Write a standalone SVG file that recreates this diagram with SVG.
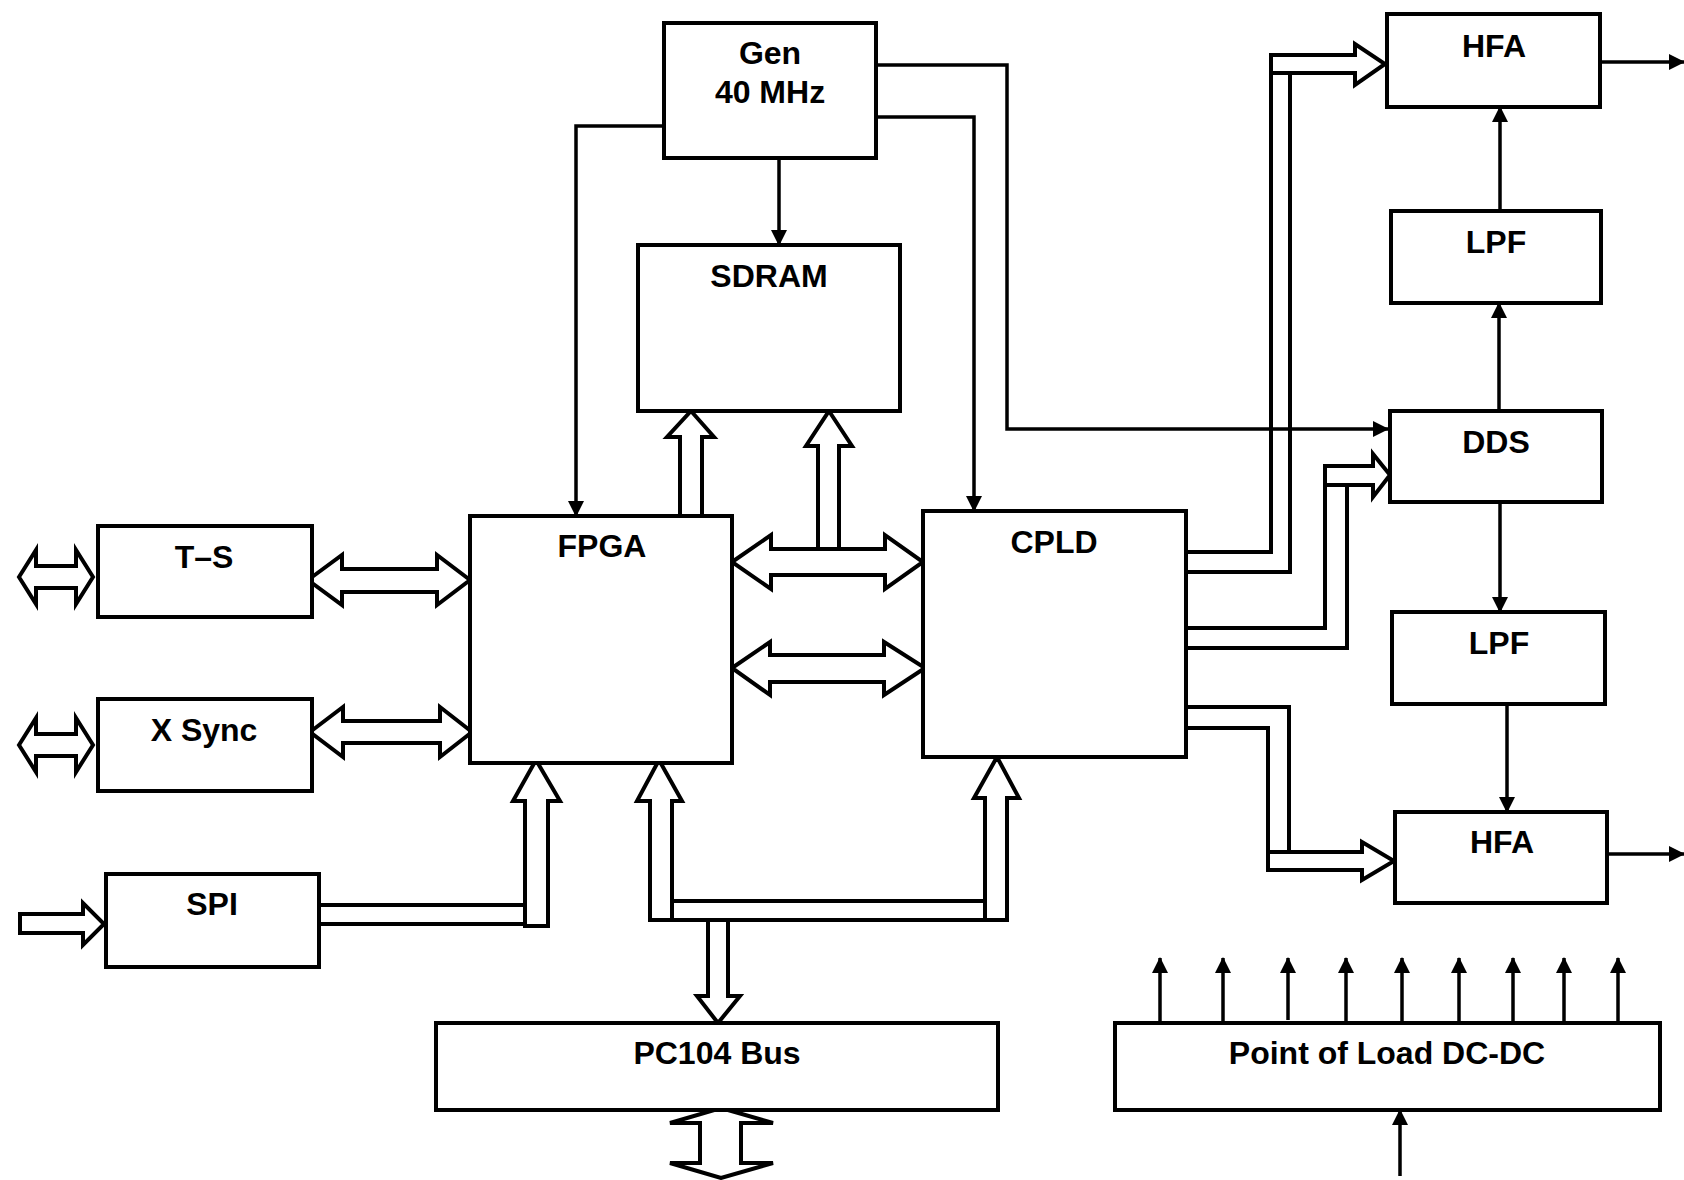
<svg xmlns="http://www.w3.org/2000/svg" width="1684" height="1180" viewBox="0 0 1684 1180">
<style>
.box{fill:#fff;stroke:#000;stroke-width:4}
.blk{fill:#fff;stroke:#000;stroke-width:4;stroke-linejoin:miter}
.ln{fill:none;stroke:#000;stroke-width:3.5}
.bus{fill:none;stroke:#000;stroke-width:4}
text{font-family:"Liberation Sans",Arial,sans-serif;font-weight:bold;font-size:32px;text-anchor:middle;fill:#000}
</style>
<defs>
<marker id="ah" markerUnits="userSpaceOnUse" markerWidth="16" markerHeight="16" viewBox="0 0 16 16" refX="15" refY="8" orient="auto">
<path d="M0,0 L16,8 L0,16 Z" fill="#000"/>
</marker>
</defs>
<rect width="1684" height="1180" fill="#fff"/>
<g id="connectors">
<path class="ln" d="M664,126 H576 V516" marker-end="url(#ah)"/>
<path class="ln" d="M876,65 H1007 V429 H1388" marker-end="url(#ah)"/>
<path class="ln" d="M876,117 H974 V511" marker-end="url(#ah)"/>
<path class="ln" d="M779,158 V245" marker-end="url(#ah)"/>
<path class="ln" d="M1500,211 V107" marker-end="url(#ah)"/>
<path class="ln" d="M1499,411 V303" marker-end="url(#ah)"/>
<path class="ln" d="M1500,502 V612" marker-end="url(#ah)"/>
<path class="ln" d="M1507,704 V812" marker-end="url(#ah)"/>
<path class="ln" d="M1600,62 H1684" marker-end="url(#ah)"/>
<path class="ln" d="M1607,854 H1684" marker-end="url(#ah)"/>
<path class="ln" d="M1160,1023 V958" marker-end="url(#ah)"/>
<path class="ln" d="M1223,1023 V958" marker-end="url(#ah)"/>
<path class="ln" d="M1288,1020 V958" marker-end="url(#ah)"/>
<path class="ln" d="M1346,1023 V958" marker-end="url(#ah)"/>
<path class="ln" d="M1402,1023 V958" marker-end="url(#ah)"/>
<path class="ln" d="M1459,1023 V958" marker-end="url(#ah)"/>
<path class="ln" d="M1513,1023 V958" marker-end="url(#ah)"/>
<path class="ln" d="M1564,1023 V958" marker-end="url(#ah)"/>
<path class="ln" d="M1618,1023 V958" marker-end="url(#ah)"/>
<path class="ln" d="M1400,1176 V1110" marker-end="url(#ah)"/>
<polygon class="blk" points="19,577 36,550 36,566 76,566 76,550 93,577 76,604 76,588 36,588 36,604"/>
<polygon class="blk" points="19,745 36,718 36,734 76,734 76,718 93,745 76,772 76,756 36,756 36,772"/>
<polygon class="blk" points="308,580 342,555 342,569 437,569 437,555 470,580 437,605 437,592 342,592 342,605"/>
<polygon class="blk" points="310,732 343,707 343,721 440,721 440,707 472,732 440,757 440,743 343,743 343,757"/>
<polygon class="blk" points="732,562 771,535 771,549 885,549 885,535 923,562 885,589 885,575 771,575 771,589"/>
<polygon class="blk" points="732,668 770,642 770,655 884,655 884,642 925,668 884,695 884,682 770,682 770,695"/>
<polygon class="blk" points="691,411 714,437 702,437 702,516 680,516 680,437 667,437"/>
<polygon class="blk" points="829,411 852,446 839,446 839,549 818,549 818,446 806,446"/>
<polygon class="blk" points="20,914 83,914 83,903 104,924 83,945 83,933 20,933"/>
<path class="bus" d="M319,905 H548 M319,924 H525"/>
<polygon class="blk" points="536,760 560,801 548,801 548,926 525,926 525,801 513,801"/>
<rect class="blk" x="672" y="901" width="313" height="19"/>
<polygon class="blk" points="718,1023 740,996 728,996 728,920 708,920 708,996 697,996"/>
<polygon class="blk" points="659,760 682,801 672,801 672,920 650,920 650,801 637,801"/>
<polygon class="blk" points="997,757 1019,798 1007,798 1007,920 985,920 985,798 974,798"/>
<polygon class="blk" points="721,1108 773,1123 741,1123 741,1163 773,1163 721,1178 670,1163 700,1163 700,1123 670,1123"/>
<path class="bus" d="M1186,552 H1271 V55 H1355 V44 L1385,64 L1355,85 V73 H1290 V572 H1186 M1271,73 H1290"/>
<path class="bus" d="M1186,628 H1325 V466 H1373 V454 L1390,475 L1373,497 V485 H1347 V648 H1186 M1325,485 H1347"/>
<path class="bus" d="M1186,707 H1289 V852 H1362 V842 L1394,861 L1362,880 V870 H1268 V728 H1186 M1268,852 H1289"/>
</g>
<g id="gen"><rect class="box" x="664" y="23" width="212" height="135"/><text x="770" y="64">Gen</text><text x="770" y="103">40 MHz</text></g>
<g id="sdram"><rect class="box" x="638" y="245" width="262" height="166"/><text x="769" y="287">SDRAM</text></g>
<g id="fpga"><rect class="box" x="470" y="516" width="262" height="247"/><text x="602" y="557">FPGA</text></g>
<g id="cpld"><rect class="box" x="923" y="511" width="263" height="246"/><text x="1054" y="553">CPLD</text></g>
<g id="ts"><rect class="box" x="98" y="526" width="214" height="91"/><text x="204" y="568">T–S</text></g>
<g id="xsync"><rect class="box" x="98" y="699" width="214" height="92"/><text x="204" y="741">X Sync</text></g>
<g id="spi"><rect class="box" x="106" y="874" width="213" height="93"/><text x="212" y="915">SPI</text></g>
<g id="hfa1"><rect class="box" x="1387" y="14" width="213" height="93"/><text x="1494" y="57">HFA</text></g>
<g id="lpf1"><rect class="box" x="1391" y="211" width="210" height="92"/><text x="1496" y="253">LPF</text></g>
<g id="dds"><rect class="box" x="1390" y="411" width="212" height="91"/><text x="1496" y="453">DDS</text></g>
<g id="lpf2"><rect class="box" x="1392" y="612" width="213" height="92"/><text x="1499" y="654">LPF</text></g>
<g id="hfa2"><rect class="box" x="1395" y="812" width="212" height="91"/><text x="1502" y="853">HFA</text></g>
<g id="pc104"><rect class="box" x="436" y="1023" width="562" height="87"/><text x="717" y="1064">PC104 Bus</text></g>
<g id="pol"><rect class="box" x="1115" y="1023" width="545" height="87"/><text x="1387" y="1064">Point of Load DC-DC</text></g>
</svg>
